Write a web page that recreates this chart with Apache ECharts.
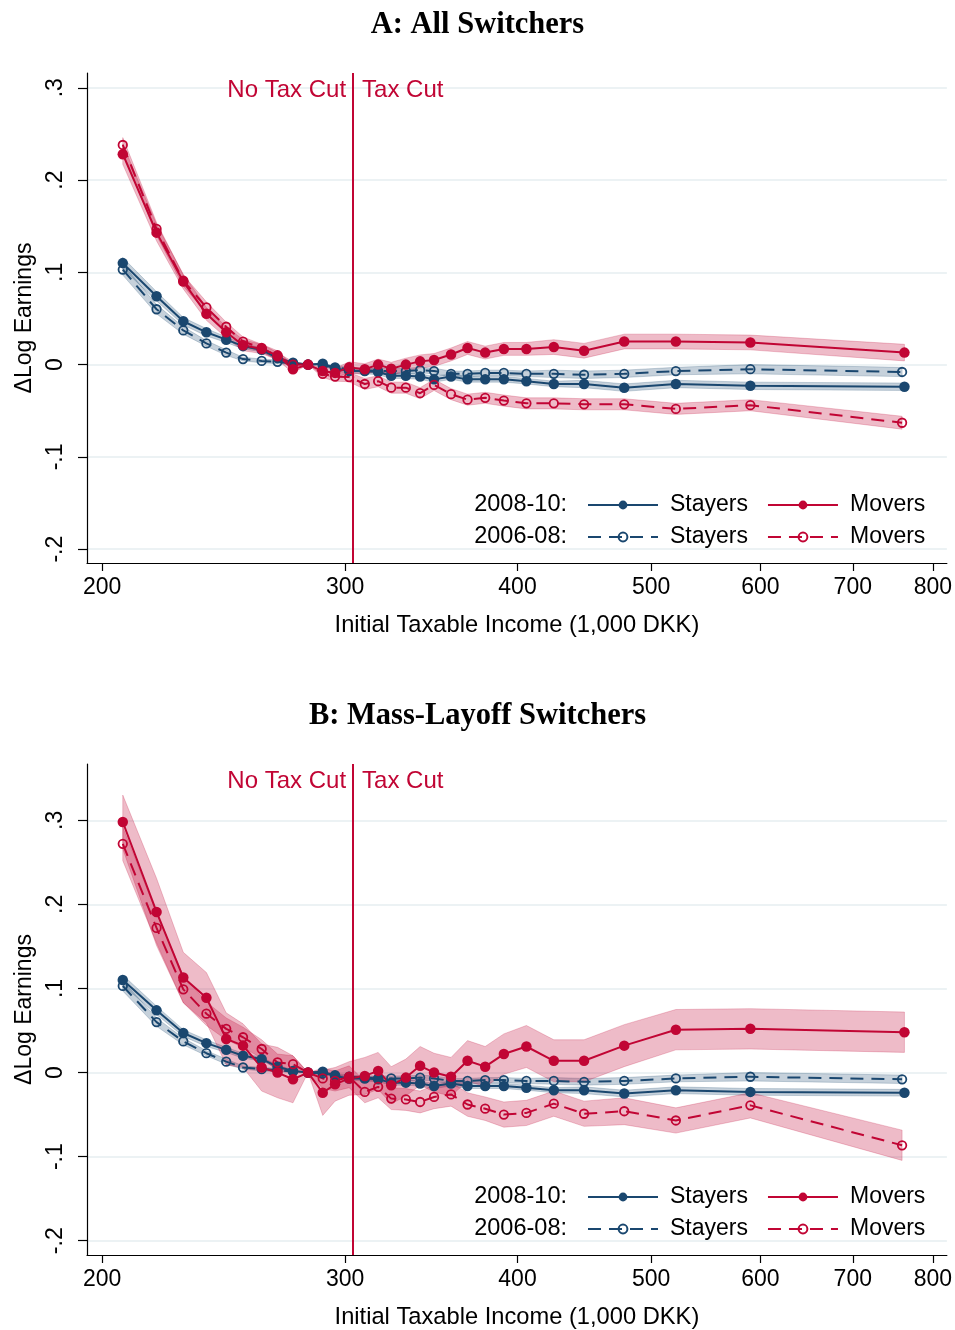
<!DOCTYPE html>
<html>
<head>
<meta charset="utf-8">
<script src="https://cdn.jsdelivr.net/npm/echarts@6/dist/echarts.min.js"></script>
<style>
  html, body { margin: 0; padding: 0; background: #fff; }
  #chart { width: 955px; height: 1330px; }
</style>
</head>
<body>
<div id="chart"></div>
<script>
// Income bins (midpoints, 1,000 DKK)
const incomeNew = [207, 219, 229, 238, 246, 253, 261, 268, 275, 282, 289, 295, 302, 310, 317, 324, 332, 340, 348, 358, 368, 379, 391, 406, 425, 447, 478, 521, 590, 763];
const incomeOld = [207, 219, 229, 238, 246, 253, 261, 268, 275, 282, 289, 295, 302, 310, 317, 324, 332, 340, 348, 358, 368, 379, 391, 406, 425, 447, 478, 521, 590, 760];

// Stayers (same in both panels)
const stayersNew = [0.110, 0.074, 0.047, 0.035, 0.027, 0.020, 0.016, 0.007, 0.002, 0, 0.001, -0.004, -0.007, -0.007, -0.008, -0.012, -0.012, -0.013, -0.016, -0.013, -0.016, -0.016, -0.016, -0.018, -0.021, -0.021, -0.025, -0.021, -0.023, -0.024];
const stayersNewCI = [0.006, 0.005, 0.004, 0.004, 0.003, 0.003, 0.002, 0.002, 0.001, 0, 0.001, 0.002, 0.002, 0.003, 0.003, 0.003, 0.003, 0.003, 0.003, 0.003, 0.003, 0.003, 0.003, 0.003, 0.003, 0.004, 0.004, 0.004, 0.004, 0.004];
const stayersOld = [0.103, 0.060, 0.037, 0.023, 0.013, 0.006, 0.004, 0.003, 0.001, 0, -0.001, -0.003, -0.005, -0.006, -0.007, -0.007, -0.007, -0.006, -0.007, -0.010, -0.010, -0.009, -0.009, -0.010, -0.010, -0.011, -0.010, -0.007, -0.005, -0.008];
const stayersOldCI = [0.006, 0.005, 0.004, 0.003, 0.003, 0.002, 0.002, 0.002, 0.001, 0, 0.001, 0.002, 0.002, 0.002, 0.003, 0.003, 0.003, 0.003, 0.003, 0.003, 0.003, 0.003, 0.003, 0.003, 0.004, 0.004, 0.004, 0.004, 0.005, 0.005];

// Movers, panel A: all switchers
const moversNewA = [0.228, 0.143, 0.090, 0.055, 0.035, 0.021, 0.017, 0.010, -0.005, 0, -0.007, -0.009, -0.003, -0.005, 0.000, -0.0045, 0.000, 0.0035, 0.005, 0.011, 0.018, 0.013, 0.017, 0.017, 0.019, 0.015, 0.025, 0.025, 0.024, 0.013];
const moversNewACI = [0.011, 0.009, 0.008, 0.007, 0.006, 0.006, 0.005, 0.005, 0.004, 0, 0.004, 0.005, 0.006, 0.006, 0.006, 0.007, 0.007, 0.007, 0.007, 0.007, 0.007, 0.007, 0.007, 0.007, 0.008, 0.008, 0.008, 0.008, 0.008, 0.009];
const moversOldA = [0.238, 0.147, 0.091, 0.062, 0.041, 0.025, 0.018, 0.009, 0.000, 0, -0.010, -0.013, -0.0135, -0.021, -0.018, -0.025, -0.025, -0.031, -0.022, -0.032, -0.038, -0.036, -0.039, -0.042, -0.042, -0.043, -0.043, -0.048, -0.044, -0.063];
const moversOldACI = [0.008, 0.007, 0.006, 0.006, 0.005, 0.005, 0.004, 0.004, 0.003, 0, 0.004, 0.005, 0.005, 0.006, 0.006, 0.006, 0.006, 0.006, 0.006, 0.006, 0.006, 0.006, 0.006, 0.006, 0.006, 0.006, 0.006, 0.006, 0.006, 0.007];

// Movers, panel B: mass-layoff switchers
const moversNewB = [0.298, 0.191, 0.113, 0.089, 0.040, 0.032, 0.006, 0.000, -0.008, 0, -0.024, -0.014, -0.007, -0.004, 0.002, -0.015, -0.006, 0.008, 0.000, -0.005, 0.014, 0.007, 0.022, 0.031, 0.014, 0.014, 0.032, 0.051, 0.052, 0.048];
const moversNewBCI = [0.032, 0.040, 0.030, 0.030, 0.031, 0.026, 0.028, 0.030, 0.028, 0, 0.027, 0.020, 0.020, 0.022, 0.022, 0.022, 0.022, 0.023, 0.023, 0.023, 0.024, 0.024, 0.024, 0.025, 0.025, 0.025, 0.025, 0.024, 0.024, 0.024];
const moversOldB = [0.272, 0.172, 0.099, 0.070, 0.052, 0.042, 0.028, 0.012, 0.010, 0, -0.007, -0.010, -0.005, -0.023, -0.017, -0.031, -0.032, -0.035, -0.029, -0.026, -0.038, -0.043, -0.050, -0.048, -0.037, -0.049, -0.046, -0.057, -0.039, -0.0865];
const moversOldBCI = [0.020, 0.018, 0.016, 0.014, 0.013, 0.012, 0.011, 0.010, 0.010, 0, 0.012, 0.012, 0.013, 0.013, 0.013, 0.013, 0.013, 0.013, 0.014, 0.014, 0.014, 0.014, 0.015, 0.015, 0.015, 0.015, 0.016, 0.015, 0.015, 0.018];

// Axis ticks and the tax-cut threshold
const xTicks = [200, 300, 400, 500, 600, 700, 800];
const yTicks = [-0.2, -0.1, 0, 0.1, 0.2, 0.3];
const taxCutAt = 304;

const SANS = '"Liberation Sans", Arial, sans-serif';
const SERIF = '"Liberation Serif", "Times New Roman", serif';
const NAVY = '#1A476F';
const CRANBERRY = '#C10534';
const FS = 23;

const panels = [
  { title: 'A: All Switchers', top: 73, height: 490, yMin: -0.215, yMax: 0.316,
    movers: [[moversNewA, moversNewACI], [moversOldA, moversOldACI]] },
  { title: 'B: Mass-Layoff Switchers', top: 764, height: 491, yMin: -0.217, yMax: 0.367,
    movers: [[moversNewB, moversNewBCI], [moversOldB, moversOldBCI]] }
];
const GRID_LEFT = 87, GRID_RIGHT = 6;

function tickText(v) {
  const r = Math.round(v * 10) / 10;
  if (r === 0) return '0';
  return (r < 0 ? '-' : '') + Math.abs(r).toFixed(1).replace(/^0/, '');
}

function bandSeries(g, xs, mid, hw, fill, edge) {
  return {
    type: 'custom', xAxisIndex: g, yAxisIndex: g, silent: true, z: 1,
    data: xs.map((x, i) => [x, mid[i] - hw[i], mid[i] + hw[i]]),
    encode: { x: 0, y: [1, 2] },
    renderItem: function (params, api) {
      if (params.dataIndex !== 0) return null;
      const upper = xs.map((x, i) => api.coord([x, mid[i] + hw[i]]));
      const lower = xs.map((x, i) => api.coord([x, mid[i] - hw[i]])).reverse();
      return {
        type: 'polygon',
        shape: { points: upper.concat(lower) },
        style: { fill: fill, stroke: edge, lineWidth: 1 }
      };
    }
  };
}

function lineSeries(g, name, xs, ys, color, hollow) {
  return {
    type: 'line', name: name, xAxisIndex: g, yAxisIndex: g, z: 3,
    data: xs.map((x, i) => [x, ys[i]]),
    symbol: 'circle', symbolSize: hollow ? 8.5 : 10.5, showSymbol: true,
    lineStyle: { color: color, width: 2, type: hollow ? [13, 8] : 'solid' },
    itemStyle: hollow
      ? { color: 'rgba(255,255,255,0)', borderColor: color, borderWidth: 1.8 }
      : { color: color },
    emphasis: { disabled: true }
  };
}

const BLUE_FILL = 'rgba(26,71,111,0.25)', BLUE_EDGE = 'rgba(26,71,111,0.22)';
const RED_FILL = 'rgba(193,5,52,0.27)', RED_EDGE = 'rgba(193,5,52,0.22)';

const grids = [], xAxes = [], yAxes = [], series = [], legends = [];

panels.forEach((p, g) => {
  grids.push({ left: GRID_LEFT, right: GRID_RIGHT, top: p.top, height: p.height });
  xAxes.push({
    type: 'log', gridIndex: g, min: 195, max: 819,
    axisLine: { show: true, onZero: false, lineStyle: { color: '#000', width: 1.2 } },
    axisTick: { show: true, inside: false, length: 8, customValues: xTicks, lineStyle: { color: '#000', width: 1.2 } },
    axisLabel: { customValues: xTicks, fontSize: FS, color: '#000', fontFamily: SANS, margin: 13 },
    minorTick: { show: false }, splitLine: { show: false },
    name: 'Initial Taxable Income (1,000 DKK)', nameLocation: 'middle', nameGap: 50,
    nameTextStyle: { fontSize: 23.7, color: '#000', fontFamily: SANS }
  });
  yAxes.push({
    type: 'value', gridIndex: g, min: p.yMin, max: p.yMax,
    axisLine: { show: true, onZero: false, lineStyle: { color: '#000', width: 1.2 } },
    axisTick: { show: true, inside: false, length: 9, customValues: yTicks, lineStyle: { color: '#000', width: 1.2 } },
    axisLabel: { customValues: yTicks, rotate: 90, formatter: tickText, fontSize: FS, color: '#000', fontFamily: SANS, margin: 20 },
    splitLine: { show: true, lineStyle: { color: '#E6EEF0', width: 1.5 } },
    name: 'ΔLog Earnings', nameLocation: 'middle', nameRotate: 90, nameGap: 51,
    nameTextStyle: { fontSize: FS, color: '#000', fontFamily: SANS }
  });

  const [mNew, mOld] = p.movers;
  series.push(bandSeries(g, incomeNew, stayersNew, stayersNewCI, BLUE_FILL, BLUE_EDGE));
  series.push(bandSeries(g, incomeOld, stayersOld, stayersOldCI, BLUE_FILL, BLUE_EDGE));
  series.push(bandSeries(g, incomeNew, mNew[0], mNew[1], RED_FILL, RED_EDGE));
  series.push(bandSeries(g, incomeOld, mOld[0], mOld[1], RED_FILL, RED_EDGE));

  // tax-cut threshold
  series.push({
    type: 'line', name: 'threshold', xAxisIndex: g, yAxisIndex: g, data: [], z: 2,
    markLine: {
      silent: true, symbol: ['none', 'none'], label: { show: false }, animation: false,
      lineStyle: { color: CRANBERRY, width: 2, type: 'solid' },
      data: [{ xAxis: taxCutAt }]
    }
  });

  series.push(lineSeries(g, 'Stayers 2008-10', incomeNew, stayersNew, NAVY, false));
  series.push(lineSeries(g, 'Stayers 2006-08', incomeOld, stayersOld, NAVY, true));
  series.push(lineSeries(g, 'Movers 2008-10', incomeNew, mNew[0], CRANBERRY, false));
  series.push(lineSeries(g, 'Movers 2006-08', incomeOld, mOld[0], CRANBERRY, true));

  const bottom = p.top + p.height;
  [['Stayers 2008-10', 'Movers 2008-10'], ['Stayers 2006-08', 'Movers 2006-08']].forEach((names, r) => {
    legends.push({
      data: names, left: 587, top: bottom - (r === 0 ? 60 : 28) - 9.5, padding: 0,
      orient: 'horizontal', itemWidth: 70, itemHeight: 11, itemGap: 19, selectedMode: false,
      formatter: n => n.split(' ')[0],
      textStyle: { fontSize: FS, color: '#000', fontFamily: SANS, padding: [0, 0, 0, 7] }
    });
  });
});

const chart = echarts.init(document.getElementById('chart'));
chart.setOption({
  animation: false,
  backgroundColor: '#fff',
  grid: grids, xAxis: xAxes, yAxis: yAxes, series: series, legend: legends
});

// Titles, period labels and threshold annotations
const graphics = [];
panels.forEach((p, g) => {
  const bottom = p.top + p.height;
  const lx = chart.convertToPixel({ xAxisIndex: g }, taxCutAt);
  graphics.push({ type: 'text', x: 477.5, y: p.top - 48, style: { text: p.title, fontFamily: SERIF, fontWeight: 'bold', fontSize: 30.5, fill: '#000', textAlign: 'center', textVerticalAlign: 'middle' } });
  graphics.push({ type: 'text', x: lx - 7, y: p.top + 17, style: { text: 'No Tax Cut', fontFamily: SANS, fontSize: 24, fill: CRANBERRY, textAlign: 'right', textVerticalAlign: 'middle' } });
  graphics.push({ type: 'text', x: lx + 9, y: p.top + 17, style: { text: 'Tax Cut', fontFamily: SANS, fontSize: 24, fill: CRANBERRY, textAlign: 'left', textVerticalAlign: 'middle' } });
  graphics.push({ type: 'text', x: 567, y: bottom - 58, style: { text: '2008-10:', fontFamily: SANS, fontSize: 23.5, fill: '#000', textAlign: 'right', textVerticalAlign: 'middle' } });
  graphics.push({ type: 'text', x: 567, y: bottom - 26, style: { text: '2006-08:', fontFamily: SANS, fontSize: 23.5, fill: '#000', textAlign: 'right', textVerticalAlign: 'middle' } });
});
chart.setOption({ graphic: graphics });
</script>
</body>
</html>
